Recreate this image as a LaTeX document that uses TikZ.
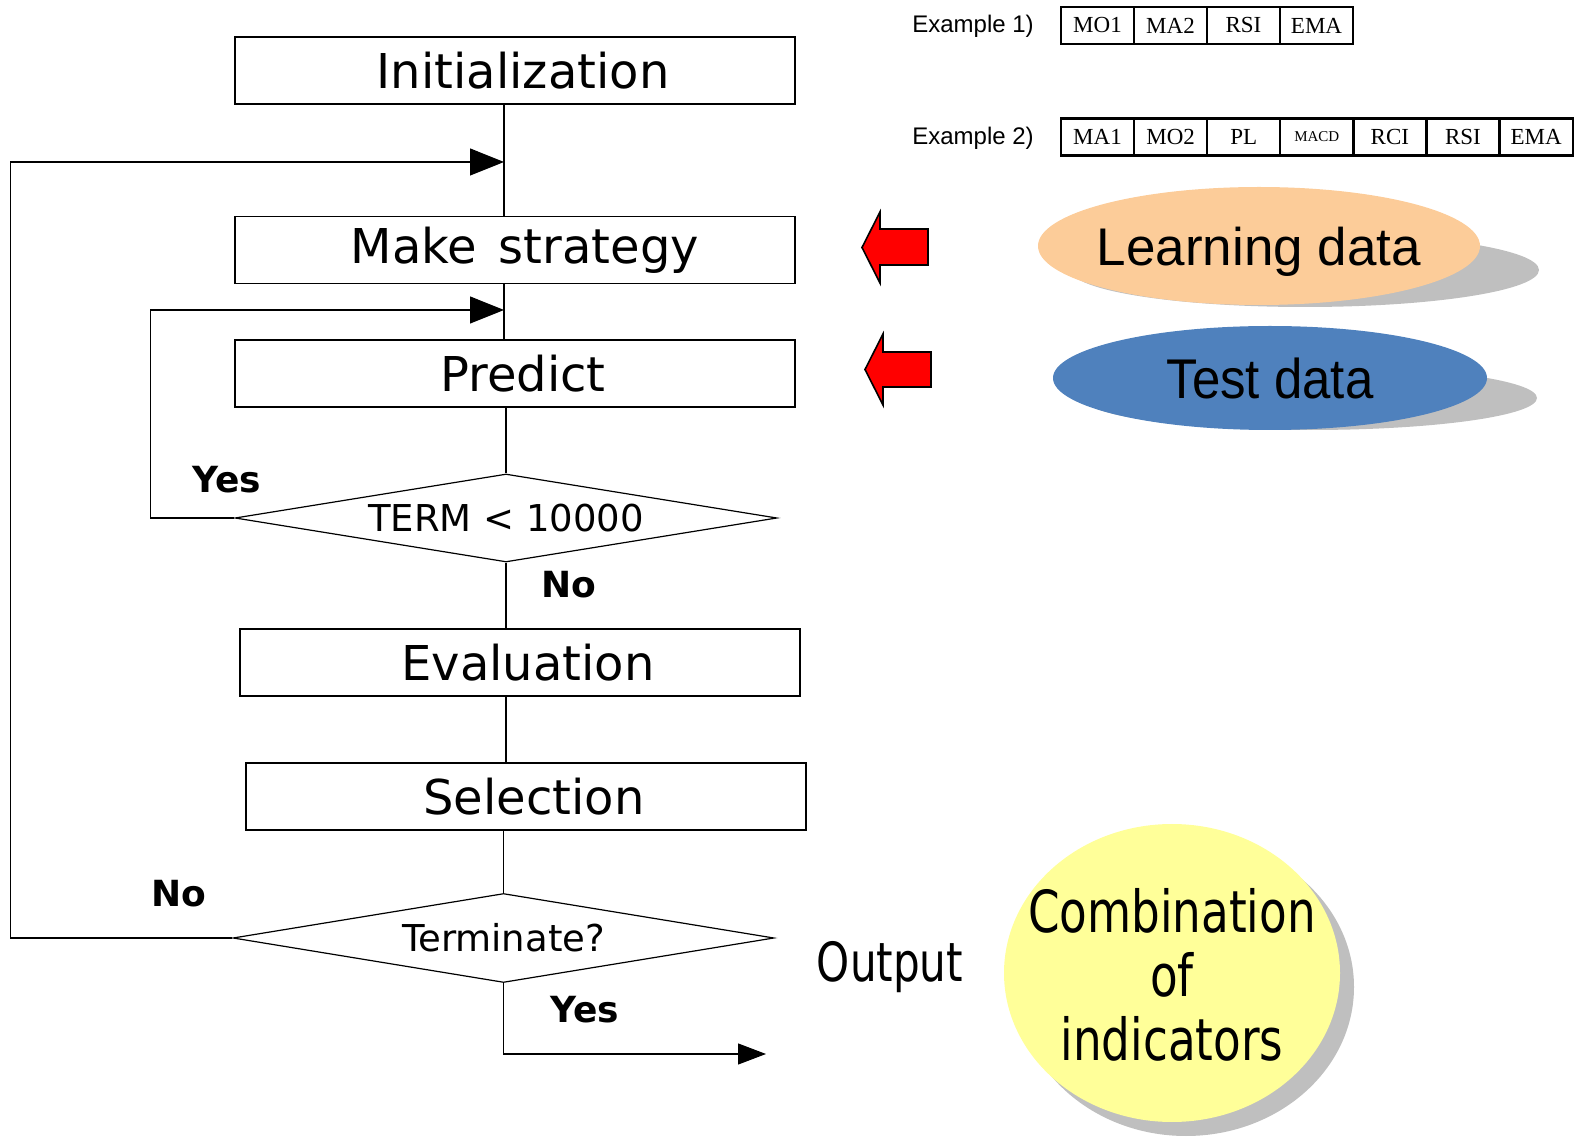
\documentclass[tikz,border=0pt]{standalone}
\usepackage{fontspec}
\setmainfont{DejaVu Sans}
\newfontfamily\arialf{Liberation Sans}
\newfontfamily\arialn[FakeStretch=0.91]{Liberation Sans}
\newfontfamily\serf{Liberation Serif}
\newfontfamily\condf[FakeStretch=0.78]{DejaVu Sans}
\usetikzlibrary{shapes.geometric,arrows.meta}
\definecolor{peach}{RGB}{252,204,153}
\definecolor{testblue}{RGB}{79,129,189}
\definecolor{shadowgray}{RGB}{191,191,191}
\definecolor{lightyellow}{RGB}{255,255,153}
\begin{document}
\begin{tikzpicture}[x=0.5pt,y=-0.5pt,
 flowbox/.style={draw=black, line width=0.6pt, rectangle, minimum width=280pt, minimum height=33.5pt, inner sep=0pt, font=\fontsize{24}{28}\selectfont},
 dec/.style={draw=black, line width=0.6pt, diamond, inner sep=0pt, shape aspect=6.1, font=\fontsize{18.5}{22}\selectfont},
 lbl/.style={font=\bfseries\fontsize{18}{22}\selectfont},
 link/.style={line width=0.6pt},
 tip/.style={-{Triangle[length=17pt,width=13.5pt]}},
 smalltip/.style={-{Triangle[length=14pt,width=10.5pt]}},
 cell/.style={draw=black, line width=1.1pt, minimum width=36.5pt, minimum height=18.5pt, inner sep=0pt, font=\serf\fontsize{11.5}{13}\selectfont},
 exlbl/.style={font=\arialf\fontsize{12}{14}\selectfont},
 blob/.style={ellipse, inner sep=0pt},
 redarrow/.style={fill=red, draw=black, line width=0.8pt, line join=miter}
]
\useasboundingbox (0,0) rectangle (1581,1138);

% examples
\node[exlbl] (ex1) at (973,26) {Example 1)};
\node[exlbl] (ex2) at (973,138) {Example 2)};
\foreach \t [count=\i] in {MO1,MA2,RSI,EMA}
  \node[cell] (ea\i) at ({1097.5+73*(\i-1)},25.5) {\t};
\foreach \t [count=\i] in {MA1,MO2,PL,{\fontsize{7.5}{9}\selectfont MACD},RCI,RSI,EMA}
  \node[cell] (eb\i) at ({1097.5+73.1*(\i-1)},137) {\t};

% data ellipses with shadows
\fill[shadowgray] (1305,270) ellipse [x radius=117pt, y radius=18.5pt];
\node[blob, fill=peach, minimum width=221pt, minimum height=59pt] (learn) at (1259,246) {};
\node[font=\arialf\fontsize{26.5}{30}\selectfont] (learntxt) at (1259,252) {Learning data};
\fill[shadowgray] (1310,398) ellipse [x radius=113.5pt, y radius=16pt];
\node[blob, fill=testblue, minimum width=217pt, minimum height=52pt] (test) at (1270,378) {};
\node[font=\arialn\fontsize{28}{32}\selectfont] (testtxt) at (1270,378) {Test data};

% red arrows
\draw[redarrow] (928,229) -- (880,229) -- (880,212) -- (862,247.5) -- (880,283) -- (880,265) -- (928,265) -- cycle;
\draw[redarrow] (931,352) -- (883,352) -- (883,334) -- (865,369.5) -- (883,405) -- (883,387) -- (931,387) -- cycle;

% flowchart
\node[flowbox] (init) at (515,70.5) {\hspace{8pt}Initialization};
\node[flowbox] (make) at (515,250) {\hspace{10pt}Make\hspace{0.45em}strategy};
\node[flowbox] (pred) at (515,373.5) {\hspace{8pt}Predict};
\node[dec, minimum width=271pt, minimum height=44pt] (term) at (506,518) {TERM < 10000};
\node[flowbox] (eval) at (520,662.5) {\hspace{8pt}Evaluation};
\node[flowbox] (sel) at (526,796.5) {\hspace{8pt}Selection};
\node[dec, minimum width=270.5pt, minimum height=44.5pt] (stop) at (503.5,938) {Terminate?};

\coordinate (tx) at (504,0);
\coordinate (j1) at (504,162);
\coordinate (j2) at (504,310);
\coordinate (outend) at (766,1054);

\draw[link] (init.south -| tx) -- (make.north -| tx);
\draw[link] (make.south -| tx) -- (pred.north -| tx);
\draw[link] (pred.south -| term.north) -- (term.north);
\draw[link] (term.south) -- (term.south |- eval.north);
\draw[link] (eval.south -| term.south) -- (sel.north -| term.south);
\draw[link] (sel.south -| stop.north) -- (stop.north);
\draw[link,tip] (stop.west) -- ++(-222,0) |- (j1);
\draw[link,tip] (term.west) -- ++(-84,0) |- (j2);
\draw[link,smalltip] (stop.south) |- (outend);

\node[lbl] (yes1) at (227,480) {Yes};
\node[lbl] (no1) at (569,585) {No};
\node[lbl] (no2) at (179,894) {No};
\node[lbl] (yes2) at (585,1010) {Yes};

% output
\node[font=\condf\fontsize{27}{30}\selectfont] (out) at (890,967) {Output};
\node[blob, fill=shadowgray, minimum width=168pt, minimum height=149pt] (resshadow) at (1186,987) {};
\node[blob, fill=lightyellow, minimum width=168pt, minimum height=149pt] (res) at (1172,973) {};
\node[align=center, font=\condf\fontsize{29}{32}\selectfont] (restxt) at (1172,975) {Combination\\of\\indicators};
\end{tikzpicture}
\end{document}
